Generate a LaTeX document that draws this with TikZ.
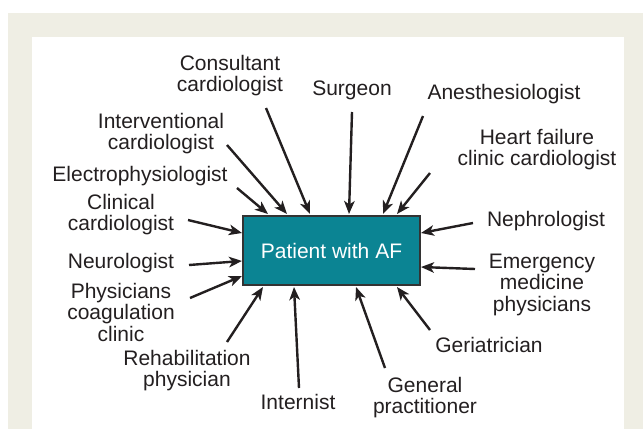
\documentclass[tikz,border=0pt]{standalone}
\usepackage{fontspec}
\setmainfont{Liberation Sans}
\usetikzlibrary{arrows.meta}
\definecolor{beige}{RGB}{239,238,228}
\definecolor{teal1}{RGB}{11,132,147}
\definecolor{ink}{RGB}{35,31,32}
\tikzset{
  lbl/.style={align=center, anchor=base, inner sep=0pt, text=ink,
    font=\fontsize{21}{21.5}\selectfont},
  arr/.style={draw=ink, line width=2.4pt,
    -{Stealth[length=13pt,width=10.5pt,inset=3.5pt]}},
  patient/.style={draw=black!80, line width=1.6pt, fill=teal1,
    minimum width=177pt, minimum height=69pt, inner sep=0pt, text=white,
    font=\fontsize{21}{21.5}\selectfont}
}
\begin{document}
\begin{tikzpicture}[x=1pt,y=-1pt]
\useasboundingbox (0,0) rectangle (643,429);
\fill[white] (0,0) rectangle (643,429);
\fill[beige] (8,13) rectangle (643,429);
\fill[white] (32,37) rectangle (624,429);

\node[patient] (box) at (331.5,250.5) {Patient with AF};

% anchor=base of a multi-line label is the baseline of its last line
\node[lbl] (consult) at (230,91.5) {Consultant\\cardiologist};
\node[lbl] (surgeon) at (352,95) {Surgeon};
\node[lbl] (anest) at (504,99) {Anesthesiologist};
\node[lbl] (heart) at (537,165.5) {Heart failure\\clinic cardiologist};
\node[lbl] (interv) at (161,149.5) {Interventional\\cardiologist};
\node[lbl] (electro) at (140,181) {Electrophysiologist};
\node[lbl] (clinical) at (121,230.5) {Clinical\\cardiologist};
\node[lbl] (neuro) at (121,268) {Neurologist};
\node[lbl] (phys) at (121,341) {Physicians\\coagulation\\clinic};
\node[lbl] (rehab) at (187,386.5) {Rehabilitation\\physician};
\node[lbl] (intern) at (298,409) {Internist};
\node[lbl] (general) at (425,413.5) {General\\practitioner};
\node[lbl] (geri) at (489,352) {Geriatrician};
\node[lbl] (nephro) at (546,226) {Nephrologist};
\node[lbl] (emerg) at (542,311) {Emergency\\medicine\\physicians};

% tails
\coordinate (tConsult) at (266,108);
\coordinate (tSurgeon) at (352,112);
\coordinate (tAnest) at (423,116);
\coordinate (tHeart) at (430,173);
\coordinate (tInterv) at (227,145);
\coordinate (tElectro) at (237,188);
\coordinate (tClinical) at (188,220);
\coordinate (tNeuro) at (189,265);
\coordinate (tPhys) at (190,298);
\coordinate (tRehab) at (227,342);
\coordinate (tIntern) at (299,388);
\coordinate (tGeneral) at (385,368);
\coordinate (tGeri) at (430,330);
\coordinate (tNephro) at (473,223);
\coordinate (tEmerg) at (475,269);
% heads
\coordinate (hConsult) at (310,214);
\coordinate (hSurgeon) at (349,214);
\coordinate (hAnest) at (383,214);
\coordinate (hHeart) at (397,214);
\coordinate (hInterv) at (287,214);
\coordinate (hElectro) at (268,214);
\coordinate (hClinical) at (242,233);
\coordinate (hNeuro) at (242,261);
\coordinate (hPhys) at (242,276);
\coordinate (hRehab) at (263,287);
\coordinate (hIntern) at (294,287);
\coordinate (hGeneral) at (356,287);
\coordinate (hGeri) at (397,287);
\coordinate (hNephro) at (421,233);
\coordinate (hEmerg) at (421,267);

\foreach \n in {Consult,Surgeon,Anest,Heart,Interv,Electro,Clinical,Neuro,Phys,Rehab,Intern,General,Geri,Nephro,Emerg}
  \draw[arr] (t\n) -- (h\n);
\end{tikzpicture}
\end{document}
